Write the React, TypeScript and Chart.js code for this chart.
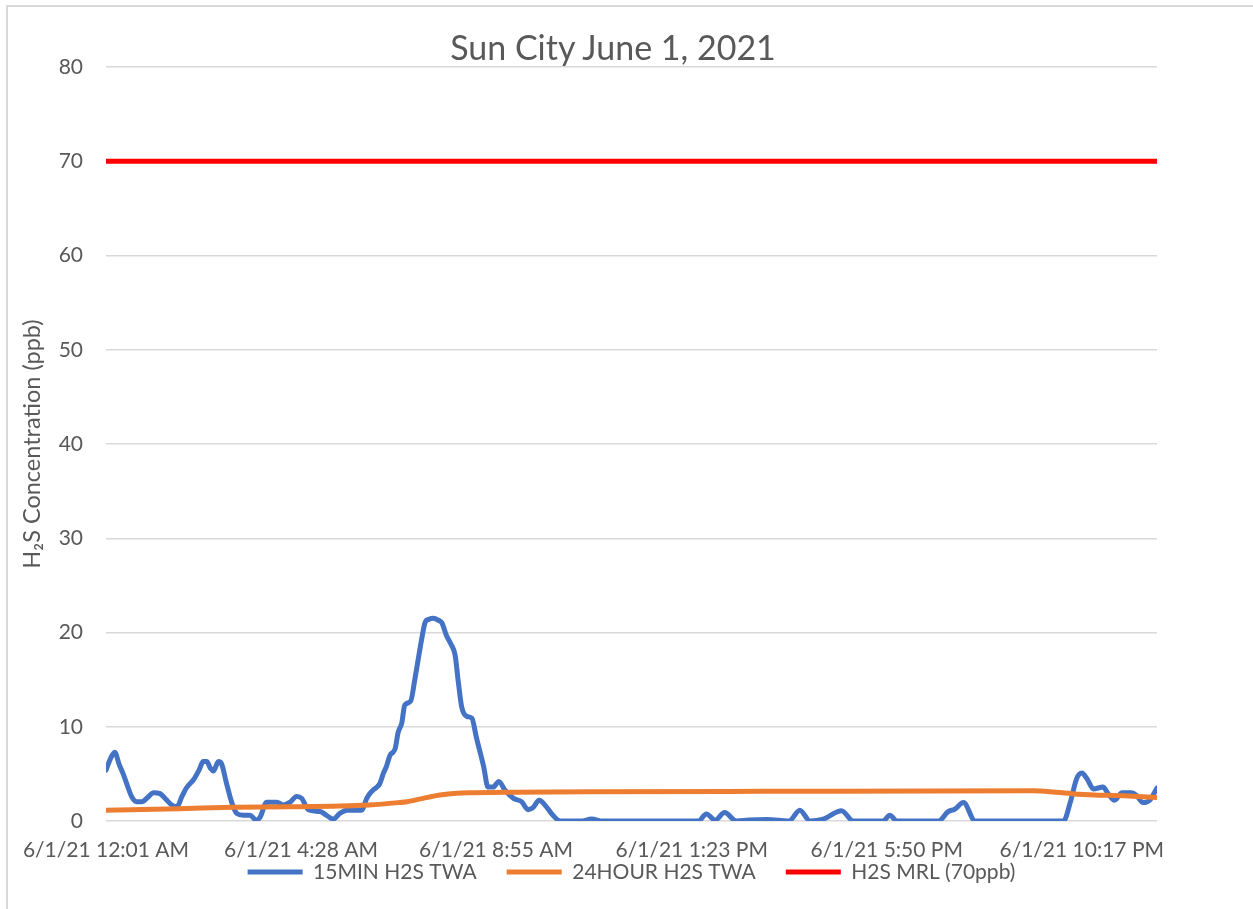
import React, { useEffect, useRef } from "react";
import { Chart, registerables } from "chart.js";

Chart.register(...registerables);

const FONT = "Lato, 'Open Sans', sans-serif";
const TEXT_COLOR = "#595959";
const GRID_COLOR = "#d9d9d9";

const chartTitle = "Sun City June 1, 2021";
const yAxisTitle = "H₂S Concentration (ppb)";
const seriesNames = ["15MIN H2S TWA", "24HOUR H2S TWA", "H2S MRL (70ppb)"];
const seriesColors = ["#4472c4", "#ed7d31", "#ff0000"];

// x positions are minutes after midnight on 6/1/21
const tickMinutes = [1, 268, 535, 803, 1070, 1337];
const tickLabels = [
  "6/1/21 12:01 AM",
  "6/1/21 4:28 AM",
  "6/1/21 8:55 AM",
  "6/1/21 1:23 PM",
  "6/1/21 5:50 PM",
  "6/1/21 10:17 PM",
];

const blueMinutes = [
  1, 7, 13, 19, 24, 31, 36, 43, 50, 58,
  66, 75, 83, 91, 98, 105, 111, 121, 129, 134,
  139, 144, 148, 155, 159, 166, 173, 180, 189, 198,
  207, 212, 221, 235, 244, 253, 262, 269, 278, 294,
  303, 312, 321, 331, 351, 358, 362, 367, 372, 376,
  381, 385, 390, 394, 397, 401, 406, 410, 418, 424,
  433, 438, 443, 449, 456, 461, 467, 473, 479, 483,
  488, 495, 502, 508, 518, 524, 531, 539, 547, 559,
  570, 579, 586, 594, 604, 613, 623, 651, 666, 681,
  812, 823, 835, 848, 864, 881, 906, 936, 951, 965,
  983, 1008, 1024, 1065, 1074, 1084, 1141, 1154, 1163, 1175,
  1191, 1312, 1321, 1330, 1337, 1344, 1353, 1366, 1373, 1382,
  1392, 1405, 1412, 1421, 1430, 1440,
];
const blueValues = [
  5.4, 6.6, 7.3, 6.0, 5.1, 3.6, 2.6, 2.05, 2.05, 2.5,
  3.0, 2.9, 2.3, 1.7, 1.5, 2.6, 3.5, 4.4, 5.5, 6.3,
  6.3, 5.6, 5.3, 6.3, 6.1, 4.0, 2.0, 0.8, 0.6, 0.6,
  0.1, 0.4, 2.0, 2.0, 1.7, 2.0, 2.6, 2.4, 1.2, 1.0,
  0.6, 0.2, 0.8, 1.15, 1.15, 2.4, 2.9, 3.3, 3.6, 4.0,
  5.1, 5.8, 7.0, 7.3, 7.7, 9.4, 10.4, 12.3, 12.7, 15.1,
  19.2, 21.1, 21.4, 21.5, 21.3, 21.0, 19.7, 18.8, 17.6, 15.0,
  12.1, 11.1, 10.9, 8.9, 5.8, 3.6, 3.6, 4.2, 3.3, 2.4,
  2.05, 1.2, 1.45, 2.2, 1.5, 0.6, 0, 0, 0.2, 0,
  0, 0.75, 0.1, 0.9, 0, 0.1, 0.15, 0, 1.15, 0,
  0.2, 1.1, 0, 0, 0.6, 0, 0, 1.0, 1.25, 1.95,
  0, 0, 1.9, 4.5, 5.1, 4.5, 3.4, 3.6, 2.9, 2.2,
  3.0, 3.0, 2.7, 1.95, 2.2, 3.5,
];

const orangeMinutes = [1, 101, 175, 251, 321, 361, 401, 413, 435, 458, 481, 504, 561, 664, 901, 1271, 1301, 1331, 1401, 1440];
const orangeValues = [1.15, 1.3, 1.45, 1.5, 1.58, 1.7, 1.95, 2.05, 2.4, 2.75, 2.95, 3.0, 3.05, 3.1, 3.15, 3.2, 3.05, 2.85, 2.65, 2.5];

const mrlMinutes = [1, 1440];
const mrlValues = [70, 70];

const yMin = 0;
const yMax = 80;
const yStep = 10;

function toPoints(xs: number[], ys: number[]) {
  return xs.map((x, i) => ({ x, y: ys[i] }));
}

export default function App() {
  const canvasRef = useRef<HTMLCanvasElement>(null);

  useEffect(() => {
    const canvas = canvasRef.current;
    if (!canvas) return;
    const lineCommon = {
      pointRadius: 0,
      pointHoverRadius: 0,
      borderCapStyle: "round" as const,
      borderJoinStyle: "round" as const,
      fill: false,
    };
    const chart = new Chart(canvas, {
      type: "line",
      data: {
        datasets: [
          {
            ...lineCommon,
            label: seriesNames[0],
            data: toPoints(blueMinutes, blueValues),
            borderColor: seriesColors[0],
            backgroundColor: seriesColors[0],
            borderWidth: 5,
            cubicInterpolationMode: "monotone",
            order: 2,
          },
          {
            ...lineCommon,
            label: seriesNames[1],
            data: toPoints(orangeMinutes, orangeValues),
            borderColor: seriesColors[1],
            backgroundColor: seriesColors[1],
            borderWidth: 5,
            cubicInterpolationMode: "monotone",
            order: 1,
          },
          {
            ...lineCommon,
            label: seriesNames[2],
            data: toPoints(mrlMinutes, mrlValues),
            borderColor: seriesColors[2],
            backgroundColor: seriesColors[2],
            borderWidth: 5,
            order: 0,
          },
        ],
      },
      options: {
        responsive: false,
        animation: false,
        devicePixelRatio: 1,
        layout: { padding: { left: 0, right: 96, top: 67, bottom: 16.5 } },
        plugins: {
          title: { display: false },
          tooltip: { enabled: false },
          legend: {
            position: "bottom",
            fullSize: false,
            labels: {
              usePointStyle: true,
              pointStyle: "line",
              pointStyleWidth: 55,
              padding: 30,
              color: TEXT_COLOR,
              font: { family: FONT, size: 21 },
              sort: (a: any, b: any) => a.datasetIndex - b.datasetIndex,
            },
          },
        },
        scales: {
          x: {
            type: "linear",
            min: tickMinutes[0],
            max: 1440,
            afterBuildTicks: (scale: any) => {
              scale.ticks = tickMinutes.map((v) => ({ value: v }));
            },
            afterFit: (scale: any) => {
              scale.height = 10.5;
            },
            grid: { display: false, drawTicks: false },
            border: { display: false },
            ticks: {
              autoSkip: false,
              maxRotation: 0,
              minRotation: 0,
              mirror: true,
              padding: -41.6,
              color: TEXT_COLOR,
              font: { family: FONT, size: 21 },
              callback: (_v: any, i: number) => tickLabels[i],
            },
          },
          y: {
            min: yMin,
            max: yMax,
            ticks: {
              stepSize: yStep,
              padding: 23,
              color: TEXT_COLOR,
              font: { family: FONT, size: 21 },
            },
            grid: { color: GRID_COLOR, lineWidth: 1.5, drawTicks: false },
            border: { display: false },
            afterFit: (scale: any) => {
              scale.width = 106;
            },
            title: {
              display: true,
              text: yAxisTitle,
              color: TEXT_COLOR,
              font: { family: FONT, size: 23.5 },
              padding: { top: 18, bottom: 0 },
            },
          },
        },
      },
    } as any);
    return () => chart.destroy();
  }, []);

  return (
    <div
      style={{
        position: "fixed",
        left: 0,
        top: 0,
        width: 1253,
        height: 909,
        overflow: "hidden",
        background: "#ffffff",
      }}
    >
      <div
        style={{
          position: "absolute",
          left: 6,
          top: 5,
          width: 1400,
          height: 1100,
          borderTop: "2px solid #d9d9d9",
          borderLeft: "2px solid #d9d9d9",
        }}
      />
      <canvas
        ref={canvasRef}
        width={1253}
        height={909}
        style={{ position: "absolute", left: 0, top: 0 }}
      />
      <div
        style={{
          position: "absolute",
          left: 0,
          top: 28,
          width: 1226,
          textAlign: "center",
          fontFamily: FONT,
          fontSize: 34,
          lineHeight: "38px",
          color: TEXT_COLOR,
        }}
      >
        {chartTitle}
      </div>
    </div>
  );
}
